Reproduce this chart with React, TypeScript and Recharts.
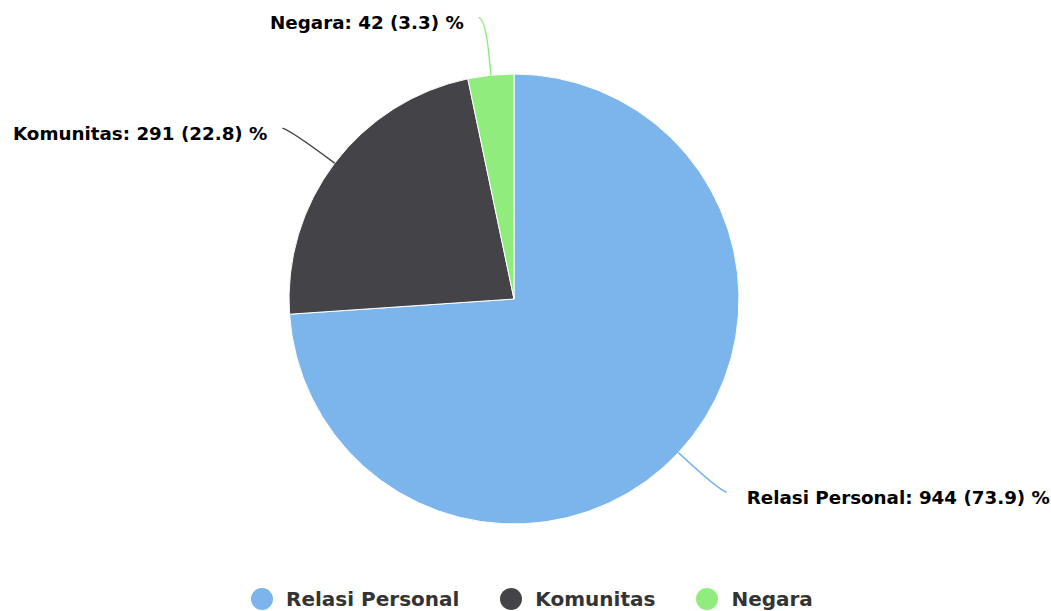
import { PieChart, Pie, Cell, Legend } from 'recharts';

const categories = ['Relasi Personal', 'Komunitas', 'Negara'];
const counts = [944, 291, 42];
const colors = ['#7cb5ec', '#434348', '#90ed7d'];

const total = counts.reduce((a, b) => a + b, 0);
const data = categories.map((name, i) => ({ name, value: counts[i] }));

const RAD = Math.PI / 180;
const LABEL_DIST = 58;

function polar(cx: number, cy: number, r: number, angle: number) {
  return { x: cx + r * Math.cos(-angle * RAD), y: cy + r * Math.sin(-angle * RAD) };
}

function renderLabel(props: any) {
  const { cx, cy, midAngle, outerRadius, index } = props;
  const color = colors[index];
  const start = polar(cx, cy, outerRadius, midAngle);
  const anchor = polar(cx, cy, outerRadius + LABEL_DIST, midAngle);
  const right = anchor.x >= cx;
  const sign = right ? 1 : -1;
  const end = { x: anchor.x + sign * 6, y: anchor.y };
  // soft connector: run out along the ray, then bend over to the label
  const ctrl = { x: anchor.x - sign * 2, y: anchor.y + (start.y > anchor.y ? 2 : -2) };
  const pct = ((counts[index] / total) * 100).toFixed(1);
  return (
    <g>
      <path
        d={`M${start.x},${start.y} Q${ctrl.x},${ctrl.y} ${end.x},${end.y}`}
        stroke={color}
        strokeWidth={1.5}
        fill="none"
      />
      <text
        x={end.x + sign * (right ? 20 : 15)}
        y={end.y + 5}
        textAnchor={right ? 'start' : 'end'}
        dominantBaseline="central"
        fontFamily="DejaVu Sans"
        fontWeight="bold"
        fontSize={18.3}
        fill="#000000"
      >
        {`${categories[index]}: ${counts[index]} (${pct}) %`}
      </text>
    </g>
  );
}

function LegendContent() {
  return (
    <div style={{ display: 'flex', alignItems: 'center', fontFamily: 'DejaVu Sans', fontWeight: 'bold', fontSize: 20, color: '#333333' }}>
      {categories.map((name, i) => (
        <div key={name} style={{ display: 'flex', alignItems: 'center', marginRight: i < categories.length - 1 ? 41 : 0 }}>
          <span style={{ width: 22, height: 22, borderRadius: 11, background: colors[i], marginRight: 13, display: 'inline-block' }} />
          <span>{name}</span>
        </div>
      ))}
    </div>
  );
}

export default function App() {
  return (
    <div style={{ position: 'absolute', left: 0, top: 0, background: '#ffffff' }}>
      <PieChart width={1051} height={611} margin={{ top: 0, right: 0, bottom: 0, left: 0 }}>
        <Pie
          data={data}
          dataKey="value"
          nameKey="name"
          cx={514}
          cy={299}
          outerRadius={225}
          startAngle={90}
          endAngle={-270}
          stroke="#ffffff"
          strokeWidth={1}
          label={renderLabel}
          labelLine={false}
          isAnimationActive={false}
        >
          {data.map((d, i) => (
            <Cell key={d.name} fill={colors[i]} />
          ))}
        </Pie>
        <Legend content={<LegendContent />} wrapperStyle={{ left: 251, top: 587, width: 'auto' }} />
      </PieChart>
    </div>
  );
}
